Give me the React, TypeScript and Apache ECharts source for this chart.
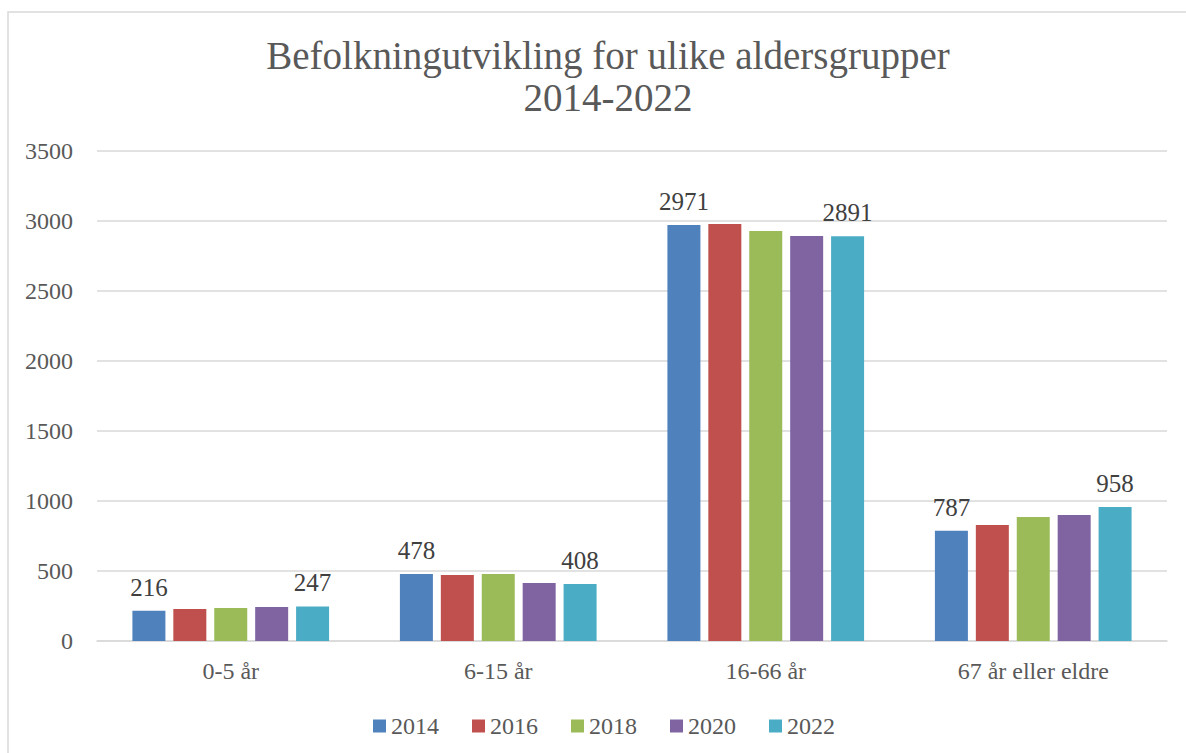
import React, { useEffect, useRef } from "react";
import * as echarts from "echarts";

const categories = ["0-5 år", "6-15 år", "16-66 år", "67 år eller eldre"];
const years = ["2014", "2016", "2018", "2020", "2022"];
const v2014 = [216, 478, 2971, 787];
const v2016 = [229, 471, 2979, 828];
const v2018 = [236, 479, 2929, 886];
const v2020 = [243, 414, 2893, 900];
const v2022 = [247, 408, 2891, 958];
const seriesValues = [v2014, v2016, v2018, v2020, v2022];
const colors = ["#4F81BD", "#C0504D", "#9BBB59", "#8064A2", "#4BACC6"];
const labelled = [true, false, false, false, true];
const yTicks = { min: 0, max: 3500, interval: 500 };

const FONT = "Liberation Serif";

export default function App() {
  const ref = useRef<HTMLDivElement>(null);
  useEffect(() => {
    const chart = echarts.init(ref.current!, undefined, { renderer: "svg" });
    const legendText = {
      fontFamily: "'Liberation Serif', serif",
      fontStyle: "normal",
      fontWeight: "normal",
      fontSize: 24,
      color: "#595959",
    };
    chart.setOption({
      animation: false,
      backgroundColor: "#ffffff",
      textStyle: { fontFamily: FONT },
      title: {
        text: "Befolkningutvikling for ulike aldersgrupper\n2014-2022",
        left: 603,
        top: 29,
        textAlign: "center",
        textStyle: {
          fontFamily: FONT,
          fontSize: 39,
          fontWeight: "normal",
          color: "#595959",
          lineHeight: 42,
        },
      },
      graphic: [
        {
          type: "rect",
          shape: { x: 8, y: 12, width: 1300, height: 900 },
          style: { fill: "none", stroke: "#d9d9d9", lineWidth: 1.5 },
          silent: true,
        },
      ],
      legend: {
        left: 373,
        top: 714,
        padding: 0,
        itemWidth: 13,
        itemHeight: 13,
        itemGap: 33,
        icon: "rect",
        textStyle: legendText,
        data: years,
      },
      grid: { left: 97, right: 19, top: 151, bottom: 112, containLabel: false },
      xAxis: {
        type: "category",
        data: categories,
        axisLine: { lineStyle: { color: "#d9d9d9", width: 1.5 } },
        axisTick: { show: false },
        axisLabel: { fontFamily: FONT, fontSize: 24, color: "#595959", margin: 18 },
      },
      yAxis: {
        type: "value",
        min: yTicks.min,
        max: yTicks.max,
        interval: yTicks.interval,
        axisLine: { show: false },
        axisTick: { show: false },
        splitLine: { lineStyle: { color: "#d9d9d9", width: 1.5 } },
        axisLabel: {
          fontFamily: FONT,
          fontSize: 24,
          color: "#595959",
          margin: 24,
          formatter: (v: number) => String(v),
        },
      },
      series: years.map((y, i) => ({
        name: y,
        type: "bar",
        data: seriesValues[i],
        barWidth: 33,
        barGap: "24%",
        itemStyle: { color: colors[i] },
        label: {
          show: labelled[i],
          position: "top",
          distance: 11,
          fontFamily: FONT,
          fontSize: 25,
          color: "#404040",
        },
      })),
    });
    return () => chart.dispose();
  }, []);
  return (
    <div
      ref={ref}
      style={{ position: "absolute", left: 0, top: 0, width: 1186, height: 753 }}
    />
  );
}
